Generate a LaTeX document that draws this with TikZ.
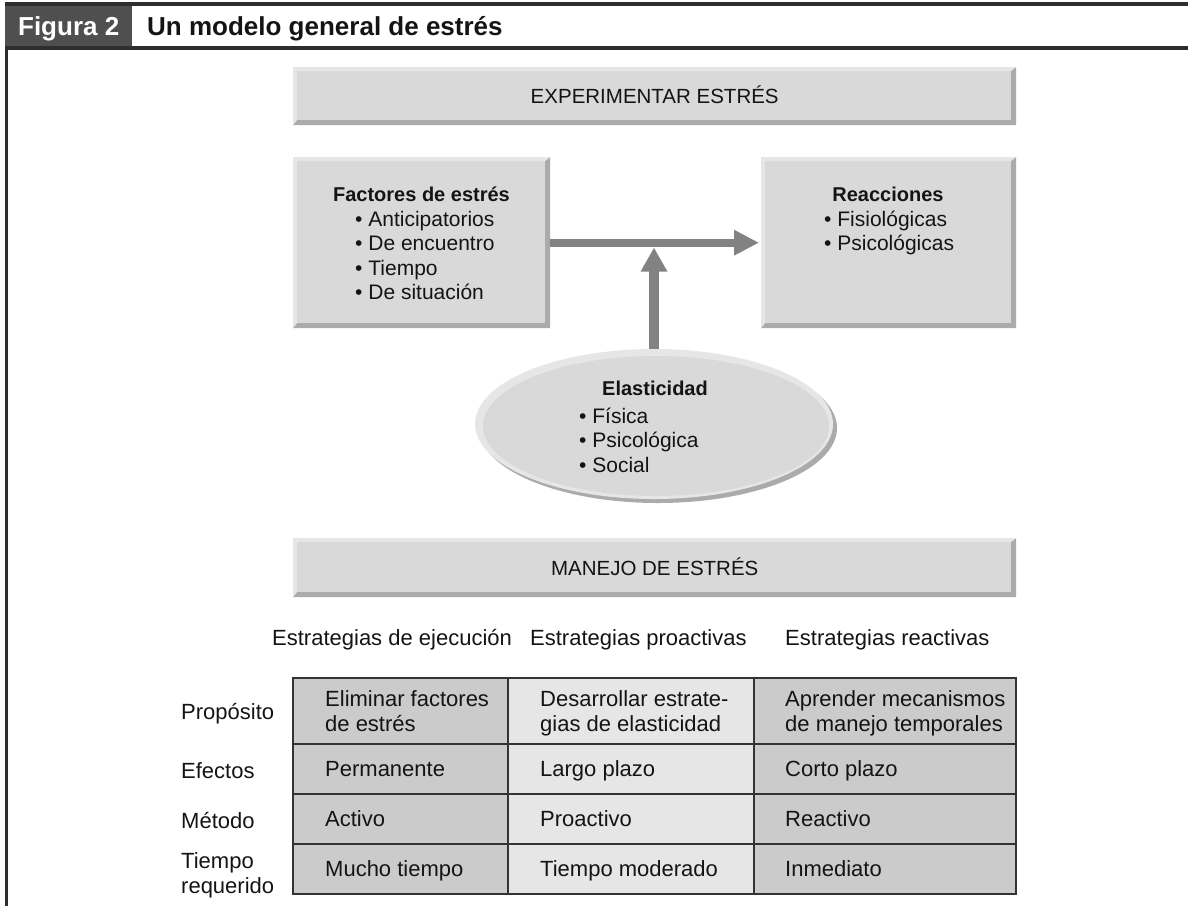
\documentclass[tikz,border=0pt]{standalone}
\usepackage{fontspec}
\setmainfont{Liberation Sans}
\usetikzlibrary{shapes.geometric,arrows.meta}

\definecolor{boxface}{HTML}{D9D9D9}
\definecolor{boxlight}{HTML}{E6E6E6}
\definecolor{boxdark}{HTML}{ABABAB}
\definecolor{arrowgray}{HTML}{828282}
\definecolor{hdrdark}{HTML}{4F4F4F}
\definecolor{frameline}{HTML}{2E2E2E}
\definecolor{cellA}{HTML}{CBCBCB}
\definecolor{cellB}{HTML}{E6E6E6}
\definecolor{gridline}{HTML}{333333}
\definecolor{ink}{HTML}{141414}

\tikzset{
  % raised grey panel with light top/left and dark bottom/right bevels
  bevelbox/.style={rectangle, inner sep=0pt, anchor=north west, fill=boxface,
    font=\fontsize{20.5}{24}\selectfont, text=ink, text height=14.7pt, text depth=0pt,
    path picture={
      \coordinate (bbsw) at (path picture bounding box.south west);
      \coordinate (bbne) at (path picture bounding box.north east);
      \coordinate (bbnw) at (bbsw |- bbne);
      \coordinate (bbse) at (bbne |- bbsw);
      \fill[boxlight] (bbsw) -- (bbnw) -- (bbne) -- ([shift={(-5pt,-4pt)}]bbne)
        -- ([shift={(4pt,-4pt)}]bbnw) -- ([shift={(4pt,5pt)}]bbsw) -- cycle;
      \fill[boxdark] (bbsw) -- (bbse) -- (bbne) -- ([shift={(-5pt,-4pt)}]bbne)
        -- ([shift={(-5pt,5pt)}]bbse) -- ([shift={(4pt,5pt)}]bbsw) -- cycle;
    }},
  boxtitle/.style={inner sep=0pt, anchor=base, text=ink, font=\bfseries\fontsize{20}{24}\selectfont},
  % multi-line nodes are placed by the baseline of their last line
  bullets/.style={inner sep=0pt, anchor=base west, align=left, text=ink, font=\fontsize{21}{24.3}\selectfont},
  tabtext/.style={inner sep=0pt, anchor=base west, align=left, text=ink, font=\fontsize{22}{25}\selectfont},
  fatarrow/.style={draw=arrowgray, line width=#1},
}

\begin{document}
\begin{tikzpicture}[x=1pt,y=-1pt]
\useasboundingbox (0,0) rectangle (1188,906);

% ---- figure frame and caption bar
\node[rectangle, inner sep=0pt, anchor=north west, fill=hdrdark, minimum width=127pt, minimum height=41.5pt,
      text=white, font=\bfseries\fontsize{26}{30}\selectfont, text height=18.6pt, text depth=0pt] (fig) at (5,5) {Figura 2};
\node[inner sep=0pt, anchor=base west, text=ink, font=\bfseries\fontsize{26}{30}\selectfont] (title) at (147,35) {Un modelo general de estrés};
\draw[frameline, line width=4pt] (5,4) -- (1188,4);
\draw[frameline, line width=3.5pt] (5,48) -- (1188,48);
\draw[frameline, line width=3pt] (6.5,46.5) -- (6.5,906);

% ---- upper panels
\node[bevelbox, minimum width=723pt, minimum height=58pt] (exp) at (293,67) {EXPERIMENTAR ESTRÉS};
\node[bevelbox, minimum width=257pt, minimum height=171pt] (fact) at (293,157) {};
\node[bevelbox, minimum width=255pt, minimum height=171pt] (reac) at (761,157) {};

\node[boxtitle] (facttitle) at (421.5,201) {Factores de estrés};
\node[bullets] (factlist) at (355,299.3) {• Anticipatorios\\• De encuentro\\• Tiempo\\• De situación};
\node[boxtitle] (reactitle) at (888,201) {Reacciones};
\node[bullets] (reaclist) at (824,250.7) {• Fisiológicas\\• Psicológicas};

% ---- resilience ellipse with shading rim
\fill[boxdark] (658,428) ellipse [x radius=179pt, y radius=75pt];
\node[ellipse, inner sep=0pt, fill=boxlight, minimum width=358pt, minimum height=150pt] (elast) at (654,424) {};
\fill[boxface] (656,426) ellipse [x radius=173pt, y radius=70pt];
\node[boxtitle] (elasttitle) at (655,395) {Elasticidad};
\node[bullets] (elastlist) at (579,472) {• Física\\• Psicológica\\• Social};

% ---- arrows
\coordinate (meet) at (654,247.5);
\draw[fatarrow=8pt, -{Triangle[length=25pt,width=24pt]}, shorten >=2pt] (fact.east) -- (reac.west);
\draw[fatarrow=10pt, -{Triangle[length=24pt,width=25pt]}] (elast.north) -- (meet);

% ---- management panel
\node[bevelbox, minimum width=723pt, minimum height=59pt] (man) at (293,538) {MANEJO DE ESTRÉS};

% ---- strategy headings
\node[tabtext] (h1) at (272,645.5) {Estrategias de ejecución};
\node[tabtext] (h2) at (530,645.5) {Estrategias proactivas};
\node[tabtext] (h3) at (785,645.5) {Estrategias reactivas};

% ---- comparison table
\fill[cellA] (293,678) rectangle (508,894);
\fill[cellB] (508,678) rectangle (754,894);
\fill[cellA] (754,678) rectangle (1016,894);
\draw[gridline, line width=2pt] (293,678) rectangle (1016,894);
\foreach \yy in {744,794,844} \draw[gridline, line width=2pt] (293,\yy) -- (1016,\yy);
\foreach \xx in {508,754} \draw[gridline, line width=2pt] (\xx,678) -- (\xx,894);

\node[tabtext] (r1) at (181,719.5) {Propósito};
\node[tabtext] (r2) at (181,778.5) {Efectos};
\node[tabtext] (r3) at (181,828.5) {Método};
\node[tabtext] (r4) at (181,893.5) {Tiempo\\requerido};

\node[tabtext] (c11) at (325,731.5) {Eliminar factores\\de estrés};
\node[tabtext] (c12) at (540,731.5) {Desarrollar estrate-\\gias de elasticidad};
\node[tabtext] (c13) at (785,731.5) {Aprender mecanismos\\de manejo temporales};
\node[tabtext] (c21) at (325,776.5) {Permanente};
\node[tabtext] (c22) at (540,776.5) {Largo plazo};
\node[tabtext] (c23) at (785,776.5) {Corto plazo};
\node[tabtext] (c31) at (325,826.5) {Activo};
\node[tabtext] (c32) at (540,826.5) {Proactivo};
\node[tabtext] (c33) at (785,826.5) {Reactivo};
\node[tabtext] (c41) at (325,876.5) {Mucho tiempo};
\node[tabtext] (c42) at (540,876.5) {Tiempo moderado};
\node[tabtext] (c43) at (785,876.5) {Inmediato};
\end{tikzpicture}
\end{document}
